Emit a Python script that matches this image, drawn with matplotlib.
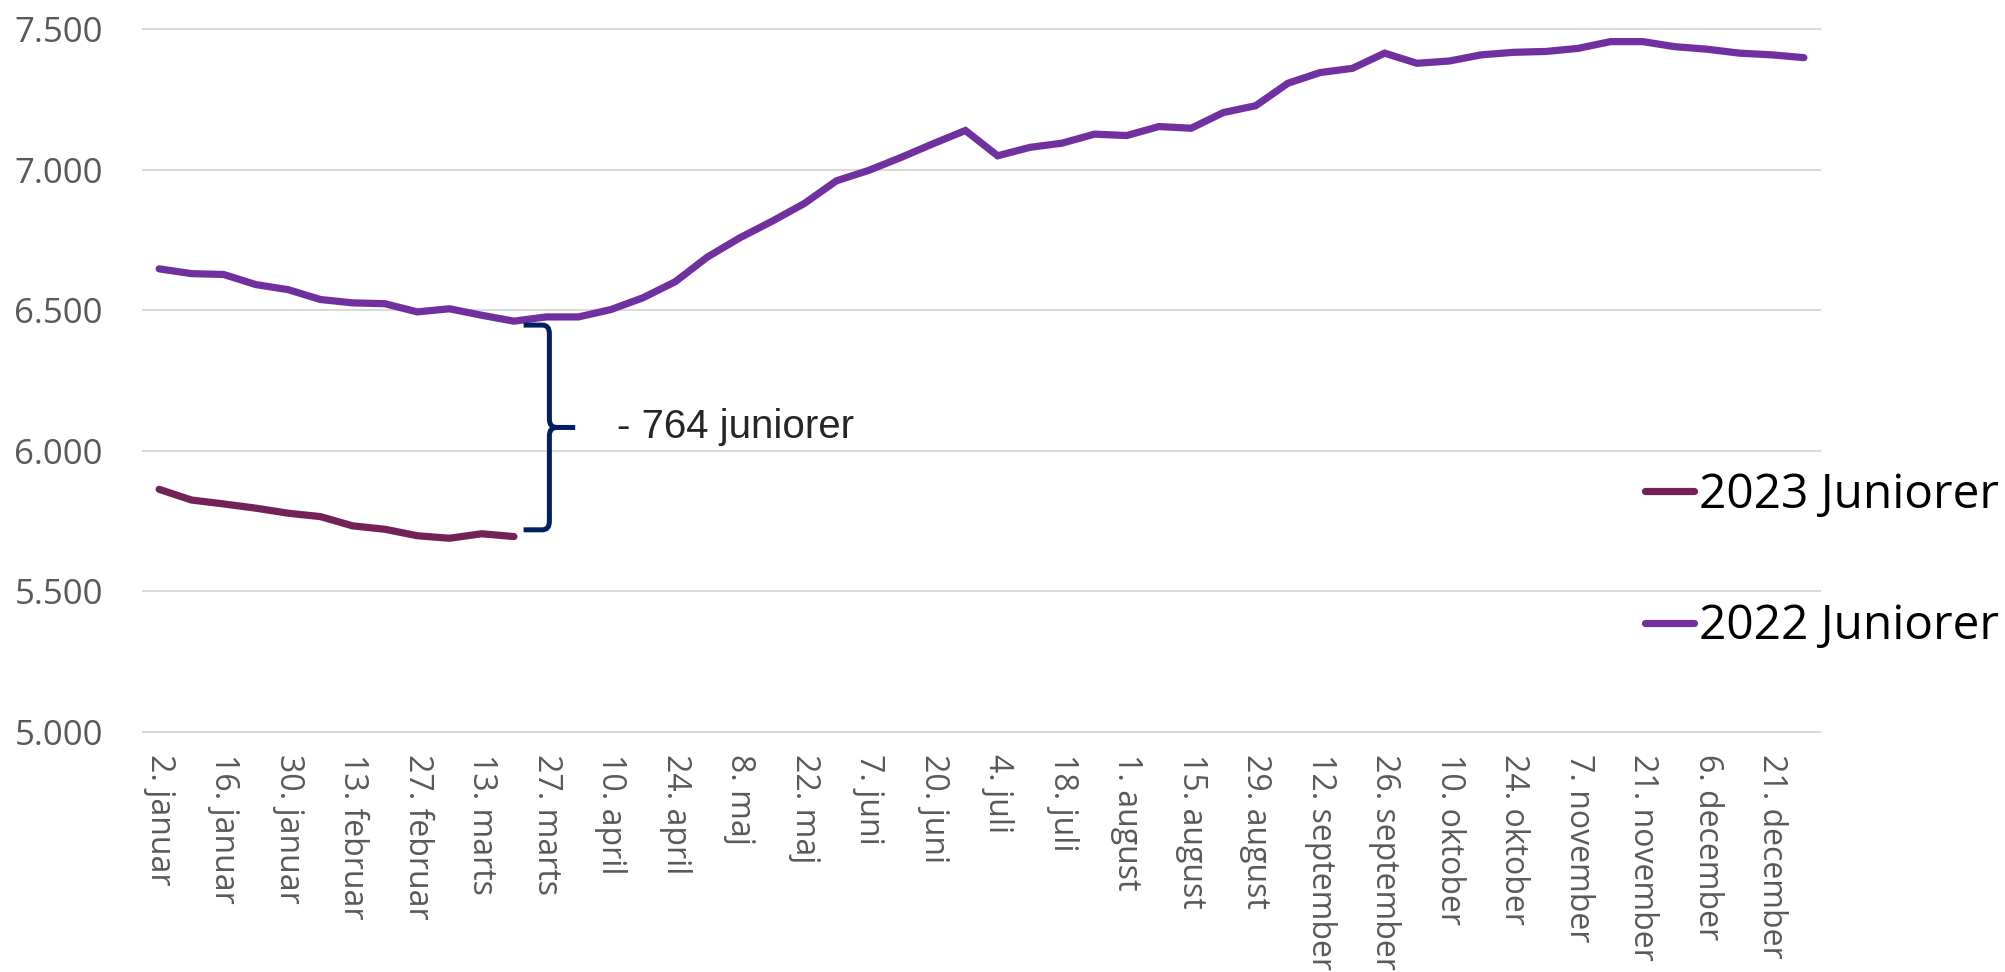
import matplotlib
matplotlib.use("Agg")
import matplotlib.pyplot as plt
from matplotlib.path import Path
from matplotlib.patches import PathPatch

# weekly observations, 2022 covers the full year, 2023 only the first 12 weeks
values_2022 = [6647, 6630, 6627, 6591, 6573, 6538, 6526, 6523, 6494, 6505,
               6482, 6461, 6476, 6476, 6502, 6544, 6601, 6689, 6757, 6816,
               6879, 6960, 6997, 7043, 7092, 7139, 7049, 7079, 7094, 7126,
               7121, 7153, 7147, 7203, 7227, 7307, 7345, 7360, 7414, 7378,
               7386, 7408, 7417, 7420, 7431, 7455, 7455, 7437, 7428, 7414,
               7408, 7398]
values_2023 = [5863, 5825, 5811, 5796, 5778, 5766, 5733, 5721, 5698, 5689,
               5705, 5695]

tick_labels = ["2. januar", "16. januar", "30. januar", "13. februar",
               "27. februar", "13. marts", "27. marts", "10. april",
               "24. april", "8. maj", "22. maj", "7. juni", "20. juni",
               "4. juli", "18. juli", "1. august", "15. august", "29. august",
               "12. september", "26. september", "10. oktober", "24. oktober",
               "7. november", "21. november", "6. december", "21. december"]
y_ticks = [5000, 5500, 6000, 6500, 7000, 7500]

gap_label = "- 764 juniorer"
label_2022 = "2022 Juniorer"
label_2023 = "2023 Juniorer"

col_2022 = "#7030A0"
col_2023 = "#722257"
col_brace = "#002060"
col_grid = "#D9D9D9"
col_tick = "#595959"

fig = plt.figure(figsize=(20.06, 9.72), dpi=100)
ax = fig.add_axes([0.0713, 0.2469, 0.836, 0.7233])

x22 = list(range(len(values_2022)))
x23 = list(range(len(values_2023)))
l22, = ax.plot(x22, values_2022, color=col_2022, lw=5.2, solid_capstyle="round",
               solid_joinstyle="miter", zorder=3)
l23, = ax.plot(x23, values_2023, color=col_2023, lw=5.2, solid_capstyle="round",
               solid_joinstyle="miter", zorder=3)

ax.set_xlim(-0.5, len(values_2022) - 0.5)
ax.set_ylim(5000, 7500)

for s in ax.spines.values():
    s.set_visible(False)

ax.set_yticks(y_ticks)
ax.set_yticklabels([f"{v:,}".replace(",", ".") for v in y_ticks],
                   fontfamily="Open Sans", fontsize=25, color=col_tick)
ax.tick_params(axis="y", length=0, pad=29)
ax.yaxis.grid(True, color=col_grid, lw=1.5)
for gl in ax.get_ygridlines():
    gl.set_clip_on(False)

ax.set_xticks(list(range(0, 2 * len(tick_labels), 2)))
ax.set_xticklabels(tick_labels, rotation=270, fontfamily="Open Sans",
                   fontsize=23, color=col_tick, va="top", ha="center")
ax.tick_params(axis="x", length=0, pad=16)

# curly brace showing the gap between the two years at week 12
i = len(values_2023) - 1
top = values_2022[i] - 14
bot = values_2023[i] + 24
mid = (top + bot) / 2
x0, xv, xt = i + 0.3, i + 1.1, i + 1.9
r_x, r_y = 0.22, 30
verts = [(x0, top), (xv - r_x, top), (xv, top), (xv, top - r_y),
         (xv, mid + r_y), (xv, mid), (xv + r_x, mid), (xt, mid),
         (xv + r_x, mid), (xv, mid), (xv, mid - r_y),
         (xv, bot + r_y), (xv, bot), (xv - r_x, bot), (x0, bot)]
codes = [Path.MOVETO, Path.LINETO, Path.CURVE3, Path.CURVE3,
         Path.LINETO, Path.CURVE3, Path.CURVE3, Path.LINETO,
         Path.MOVETO, Path.CURVE3, Path.CURVE3,
         Path.LINETO, Path.CURVE3, Path.CURVE3, Path.LINETO]
ax.add_patch(PathPatch(Path(verts, codes), fill=False, edgecolor=col_brace,
                       lw=3.6, capstyle="butt", zorder=4))
ax.text(xt + 1.3, mid, gap_label, fontfamily="Liberation Sans", fontsize=29,
        color="#262626", va="center", ha="left")

fig.legend([l23, l22], [label_2023, label_2022], loc="center left",
           bbox_to_anchor=(1645 / 2006, 1 - 561 / 972), frameon=False,
           prop={"family": "Open Sans", "size": 34.5}, handlelength=1.02,
           handletextpad=0.1, labelspacing=1.75, borderpad=0, borderaxespad=0)

fig.savefig("out.png", dpi=100, facecolor="white")
